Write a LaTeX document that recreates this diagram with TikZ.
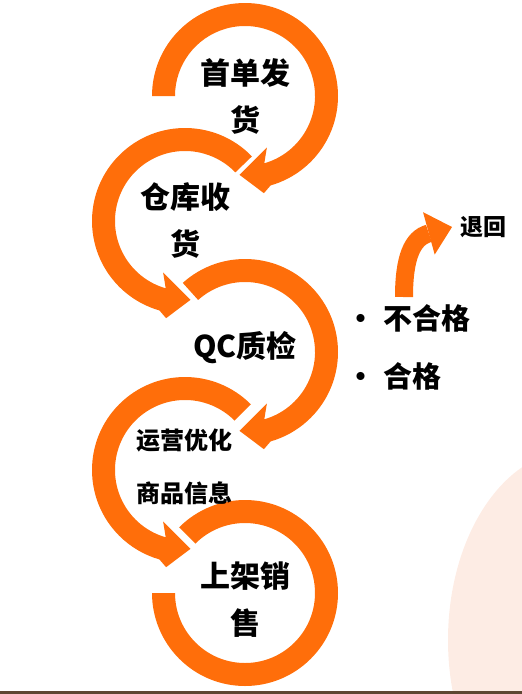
\documentclass[tikz,border=0pt]{standalone}
\usepackage{fontspec}
\newfontfamily\cjk{Noto Sans CJK SC}
\usetikzlibrary{arrows.meta}
\definecolor{flowOrange}{RGB}{255,110,10}
\definecolor{peach}{RGB}{253,236,228}
\definecolor{barBrown}{RGB}{94,70,50}
\tikzstyle{ring}=[fill=flowOrange]
\tikzstyle{stage}=[font=\cjk\bfseries\fontsize{30}{47}\selectfont,align=center,inner sep=0pt]
\tikzstyle{stagesmall}=[stage,font=\cjk\bfseries\fontsize{24}{53}\selectfont]
\tikzstyle{result}=[font=\cjk\bfseries\fontsize{29}{35}\selectfont,anchor=west,inner sep=0pt]
\tikzstyle{backline}=[draw=flowOrange,line width=18pt,-{Triangle[length=24pt,width=44pt,line width=0pt]}]

% ring round a stage, ending in an arrow head
\newcommand{\ringarrow}[3][]{%
  \fill[ring,shift={(#2)},#1] (#3:93) arc[start angle=#3,end angle=74,radius=93]
    -- (79:99) -- (94:79) -- (67:56) -- (74:70)
    arc[start angle=74,end angle=#3,radius=70] -- cycle;}

\begin{document}
\begin{tikzpicture}[x=1pt,y=-1pt]
  \useasboundingbox (0,0) rectangle (522,694);
  \fill[peach] (575,640) ellipse [x radius=127,y radius=190];
  \fill[barBrown] (0,691) rectangle (522,694);

  \coordinate (c1) at (245,96);
  \coordinate (c2) at (185,221);
  \coordinate (c3) at (245,352);
  \coordinate (c4) at (185,470);
  \coordinate (c5) at (245,593);

  \ringarrow{c1}{-180}
  \ringarrow[xscale=-1]{c2}{-136}
  \ringarrow{c3}{-132}
  \ringarrow[xscale=-1]{c4}{-135}
  \fill[ring,shift={(c5)}] (-135:93) arc[start angle=-135,end angle=180,radius=93]
    -- (180:70) arc[start angle=180,end angle=-135,radius=70] -- cycle;

  \node[stage] (ship) at (245,96) {首单发\\货};
  \node[stage] (receive) at (185,221) {仓库收\\货};
  \node[stage] (qc) at (245,348) {QC质检};
  \node[stagesmall] (optimize) at (184,467) {运营优化\\商品信息};
  \node[stage] (shelf) at (245,600) {上架销\\售};

  \node[result] (fail) at (346,318) {•\hspace{8pt}不合格};
  \node[result] (pass) at (346,376) {•\hspace{8pt}合格};
  \node[result,font=\cjk\bfseries\fontsize{23}{28}\selectfont] (back) at (460,227) {退回};

  \coordinate (bend) at (404,297);
  \draw[backline] (bend) .. controls (404,258) and (412,238) .. ([xshift=-8pt]back.west);
\end{tikzpicture}
\end{document}
